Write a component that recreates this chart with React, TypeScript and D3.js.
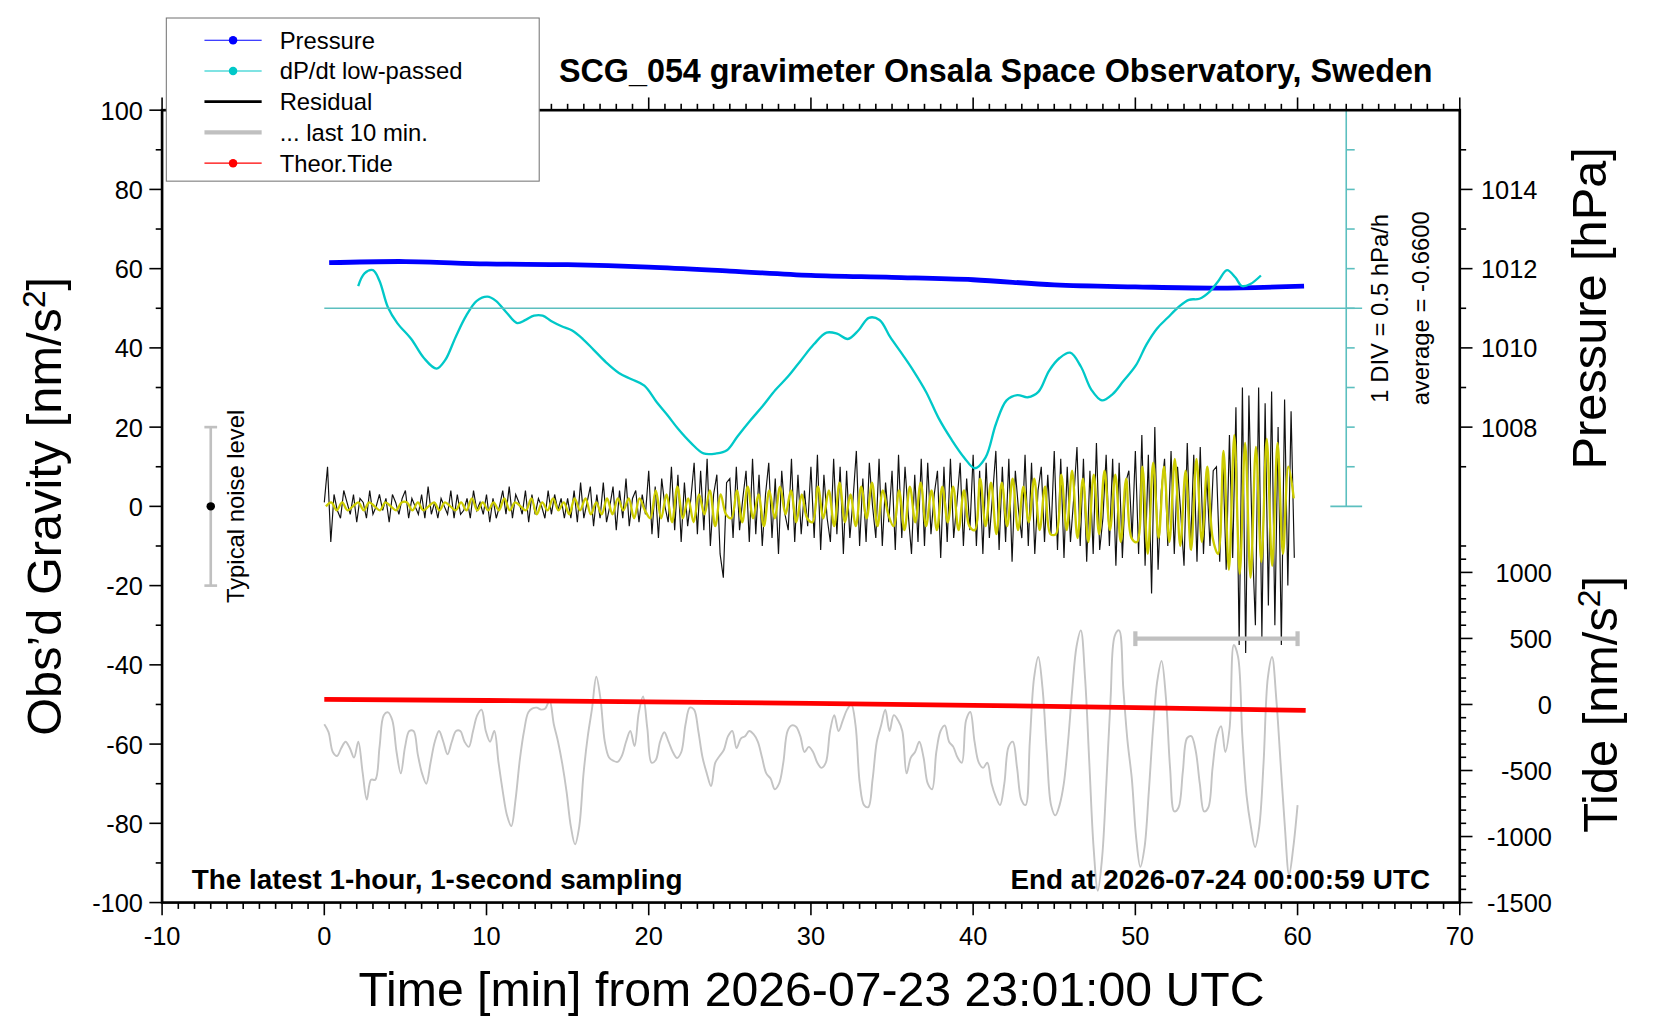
import React from "react";
import * as d3 from "d3";

const W = 1660, H = 1020;
const S = 1660 / 1567;
const M = { l: 153, r: 1378, t: 104, b: 852 };

const xTicks = [-10, 0, 10, 20, 30, 40, 50, 60, 70];
const yTicks = [-100, -80, -60, -40, -20, 0, 20, 40, 60, 80, 100];
const pTicks = [1008, 1010, 1012, 1014];
const tideTicks = [1000, 500, 0, -500, -1000, -1500];

// pressure [hPa] every 5 min
const pressT = [0.3, 5, 10, 15, 20, 25, 30, 35, 40, 45, 50, 55, 60.4];
const pressV = [1012.15, 1012.18, 1012.12, 1012.1, 1012.04, 1011.94, 1011.83, 1011.78, 1011.72, 1011.59, 1011.54, 1011.51, 1011.56];

// dP/dt low-passed [hPa/h]
const dpT = [2.09, 2.48, 3.0, 3.4, 3.92, 4.5, 5.36, 6.14, 6.92, 7.45, 8.1, 8.75, 9.4, 10.06, 10.58, 11.23, 11.89, 12.41, 12.93, 13.46, 13.98, 14.63, 15.28, 15.94, 16.59, 17.37, 18.16, 18.94, 19.73, 20.51, 21.16, 21.82, 22.6, 23.38, 24.17, 24.82, 25.47, 26.26, 27.04, 27.82, 28.61, 29.39, 30.18, 30.96, 31.61, 32.27, 32.92, 33.57, 34.23, 34.88, 35.66, 36.32, 37.1, 37.88, 38.67, 39.45, 40.1, 40.76, 41.41, 42.06, 42.72, 43.37, 44.02, 44.68, 45.33, 45.98, 46.64, 47.29, 47.94, 48.6, 49.25, 50.03, 50.69, 51.34, 51.99, 52.65, 53.3, 53.95, 54.6, 55.13, 55.65, 56.17, 56.56, 57.09, 57.74];
const dpV = [-0.379, -0.219, -0.179, -0.312, -0.647, -0.847, -1.048, -1.288, -1.422, -1.315, -1.021, -0.754, -0.566, -0.513, -0.566, -0.713, -0.847, -0.807, -0.754, -0.754, -0.82, -0.887, -0.941, -1.048, -1.181, -1.342, -1.476, -1.556, -1.636, -1.85, -2.01, -2.184, -2.358, -2.492, -2.492, -2.451, -2.278, -2.077, -1.89, -1.689, -1.516, -1.315, -1.115, -0.967, -0.981, -1.048, -0.941, -0.78, -0.807, -1.021, -1.248, -1.449, -1.716, -2.05, -2.318, -2.545, -2.679, -2.545, -2.117, -1.823, -1.756, -1.783, -1.716, -1.449, -1.288, -1.221, -1.395, -1.689, -1.823, -1.743, -1.582, -1.382, -1.115, -0.914, -0.78, -0.647, -0.553, -0.54, -0.446, -0.312, -0.179, -0.272, -0.379, -0.353, -0.246];
const dpAverage = -0.66;

// theoretical tide [nm/s^2] every 10 min
const tideT = [0, 10, 20, 30, 40, 50, 60.5];
const tideV = [39, 30, 20, 8, -6, -24, -45];

// residual [nm/s^2], every 12 s
const resid = [
  1, 10, -9, 3, -1, -3, 4, 1, -2, 3, -4, 2, 1, -3, 4, -2, 0, 3, -1, 2, -4, 3, 1, -2, 2,
  4, -3, 2, 0, -2, 3, -3, 5, -2, 1, -3, 2, 0, -2, 4, -3, 3, -2, -1, 2, -3, 4, -1, 1, -2,
  3, -4, 2, -3, 0, 4, -2, 5, -3, 3, 1, -2, 4, -4, 3, -2, 2, 0, -3, 4, -2, 3, -1, 2, -3,
  2, -3, 4, -4, 6, -3, 1, 5, -5, 3, -3, 6, -4, 0, 5, -6, 4, -3, 7, -5, 2, 4, -4, 3, -2,
  9, -7, 5, -8, 7, 0, -4, 10, -6, 8, -9, 6, -5, 2, 11, -7, 9, -6, 12, -10, 3, 8, -12, -18, 6,
  7, -8, 10, -6, 2, 9, -9, 12, -7, 8, -10, 3, 11, -8, 7, -12, 9, -2, -6, 12, -9, 8, -7, 4, -5,
  10, -8, 13, -11, 8, -3, -9, 12, -7, 10, -12, 9, -8, 2, 14, -10, 7, -9, 11, 0, -8, 12, -10, 6, -4,
  9, -11, 13, -8, 10, -2, -12, 8, -9, 12, -10, 11, -7, 3, 9, -13, 10, -9, 12, -8, 1, 11, -10, 7, -6,
  13, -10, 9, -12, 11, -8, 3, 14, -11, 10, -9, 12, -14, 9, -1, -8, 13, -10, 11, -12, 4, 10, -9, 8, -7,
  14, -11, 12, -13, 10, -9, 2, 15, -10, 12, -14, 9, -12, 16, -11, -3, 13, -10, 12, -15, 11, -13, 6, 9, -8,
  14, -12, 18, -15, 13, -22, 20, -16, 4, 12, -10, 14, -12, 10, -2, -15, 16, -11, 13, -14, 15, -12, 8, -10, 9,
  10, -14, 12, -16, 18, -13, 25, -35, 30, -37, 28, -8, -30, 30, -33, 26, -25, 29, -30, 20, -35, 27, -20, 24, -13,
];
const residStep = 0.2;

// filtered residual, every 20 s
const filt = [
  0, 1, -1, 1, -1, 0, 1, -1, 1, 0, -1, 1, 0, -1, 1,
  1, -1, 1, -1, 0, 1, -1, 1, 0, -1, 1, -1, 2, -1, 1,
  -1, 1, -1, 2, -1, 1, 0, -1, 2, -2, 1, -1, 2, -1, 1,
  -2, 2, -1, 2, -2, 1, -2, 2, -2, 2, -1, 2, -3, 2, -1,
  -3, 4, -3, 3, -4, 5, -3, 2, -4, 3, -2, 4, -5, 3, -2,
  -3, 4, -4, 5, -3, 3, -5, 4, -3, 5, -2, 4, -4, 3, -3,
  -4, 5, -3, 4, -5, 6, -4, 3, -5, 5, -3, 6, -5, 4, -2,
  -5, 4, -6, 5, -4, 6, -5, 4, -6, 5, -4, 5, -6, 4, -5,
  -6, 7, -5, 6, -7, 6, -5, 7, -6, 5, -4, 7, -6, 5, -7,
  -7, 8, -6, 9, -8, 7, -9, 8, -7, 9, -6, 8, -9, 7, -8,
  -9, 10, -12, 11, -8, 10, -9, 12, -10, 9, -11, 12, -9, 10, -8,
  -12, 14, -16, 18, -17, 16, -18, 15, -14, 17, -15, 16, -12, 10, 2,
];
const filtStep = 1 / 3;

// last 10 minutes residual, stretched over the hour (plotted in gravity units)
const last10 = [
  -55, -57, -62, -63, -61, -59.4, -61, -63.4, -59.4, -67, -74, -69, -69, -60.7, -52.7, -52, -54, -62, -67.4, -60.7,
  -56.7, -56.7, -62.6, -67.4, -70, -64.7, -59.4, -56.7, -59.4, -62.6, -59.4, -56.7, -56.7, -59.4, -60.7, -56.7, -52.7, -51.3, -56.7, -59.4,
  -56.7, -64.7, -72, -78, -80.7, -74, -64, -56.7, -52, -51, -50.8, -51.3, -51, -49, -55, -59.4, -65, -72, -80.7, -85.3,
  -80.7, -67.4, -58, -51, -43, -48.7, -59.4, -63.4, -64.2, -64.5, -63, -59.4, -56.7, -60.5, -52, -48, -56, -64.7, -64, -59.4,
  -57, -59.4, -62, -63.5, -62, -55, -50.8, -51.3, -56.7, -63.4, -67.4, -70.6, -64.7, -63, -61.5, -58, -56.7, -61, -58.6, -58,
  -56.7, -57.5, -59.4, -63.4, -67.4, -68.7, -71.4, -70, -64.7, -56.7, -55.3, -55.6, -58, -62, -60.7, -62, -64.7, -66, -64.7, -56.7,
  -52.7, -56.7, -54, -51.3, -50, -55.3, -70, -75.4, -75.9, -69, -59.4, -55.3, -51.3, -56.7, -52.7, -54, -56.7, -67.4, -63.4, -62,
  -59.4, -63.4, -70, -71.4, -62, -56.7, -55.3, -59.4, -60.7, -63.4, -64.7, -54, -51.9, -59.4, -64.7, -66, -64.7, -70, -73.3, -75.4,
  -70, -60.7, -59.4, -66, -74, -75.4, -59.4, -43.3, -38, -46, -62, -75.4, -78, -75.4, -70, -59.4, -46, -35.3, -31.3, -43.3,
  -64.7, -86, -97, -88.8, -70, -48.7, -32.6, -31.3, -46, -59.4, -68.7, -83.4, -91, -86, -72, -56, -44, -39, -48, -66,
  -77, -76, -67, -58.5, -58, -61.5, -70, -77, -76, -66, -58, -55.5, -62, -56, -35, -38, -58, -73, -80.7, -86,
  -80.7, -64.7, -43.3, -38, -48.7, -64.7, -80.7, -93, -86, -75.4,
];
const last10Span = 60;

const noiseX = -7, noiseLo = -20, noiseHi = 20;
const last10Bar = { x0: 50, x1: 60, y: -33.4 };

const FONT = "'Liberation Sans', Arial, Helvetica, sans-serif";

export default function App() {
  const x = d3.scaleLinear().domain([-10, 70]).range([M.l, M.r]);
  const y = d3.scaleLinear().domain([-100, 100]).range([M.b, M.t]);
  const pToG = (p: number) => 60 + (p - 1012) * 10;
  const tideToG = (t: number) => -50 + t / 30;
  const dpToG = (d: number) => 50 + (d - dpAverage) * 20;

  const line = d3.line<[number, number]>().x(d => x(d[0])).y(d => y(d[1]));
  const smooth = d3.line<[number, number]>().x(d => x(d[0])).y(d => y(d[1])).curve(d3.curveCatmullRom);

  const residPts = resid.map((v, i) => [i * residStep, v] as [number, number]);
  const filtPts = filt.map((v, i) => [i * filtStep + 0.1, v] as [number, number]);
  const lastPts = last10.map((v, i) => [(i * last10Span) / (last10.length - 1), v] as [number, number]);
  const pressPts = pressT.map((t, i) => [t, pToG(pressV[i])] as [number, number]);
  const dpPts = dpT.map((t, i) => [t, dpToG(dpV[i])] as [number, number]);
  const tidePts = tideT.map((t, i) => [t, tideToG(tideV[i])] as [number, number]);

  const minorX = d3.range(-10, 71, 1);
  const minorY = d3.range(-100, 101, 10);
  const minorP = d3.range(1007, 1016, 1);
  const minorTide = d3.range(-1500, 1201, 100);
  const dpAxisX = x(63);

  const legend = [
    { label: "Pressure", color: "#0000ff", dot: true, w: 1 },
    { label: "dP/dt low-passed", color: "#00c8c8", dot: true, w: 1 },
    { label: "Residual", color: "#000", dot: false, w: 2.5 },
    { label: "... last 10 min.", color: "#c0c0c0", dot: false, w: 4 },
    { label: "Theor.Tide", color: "#ff0000", dot: true, w: 1 },
  ];

  return (
    <svg width={W} height={H} style={{ position: "absolute", left: 0, top: 0, background: "#fff" }} fontFamily={FONT}>
      <g transform={`scale(${S})`}>
        {/* data */}
        <path d={smooth(lastPts) || ""} fill="none" stroke="#c4c4c4" strokeWidth={1.8} />
        <path d={line(tidePts) || ""} fill="none" stroke="#ff0000" strokeWidth={4.5} />
        <path d={line(residPts) || ""} fill="none" stroke="#111" strokeWidth={1.1} />
        <path d={smooth(filtPts) || ""} fill="none" stroke="#cccc00" strokeWidth={2.2} />
        <path d={smooth(pressPts) || ""} fill="none" stroke="#0000ff" strokeWidth={4.5} />
        <path d={smooth(dpPts) || ""} fill="none" stroke="#00c8c8" strokeWidth={2.2} />

        {/* dP/dt axis */}
        <g stroke="#5cbfbf" strokeWidth={1.5}>
          <line x1={x(0)} x2={dpAxisX + 15} y1={y(dpToG(dpAverage))} y2={y(dpToG(dpAverage))} />
          <line x1={dpAxisX} x2={dpAxisX} y1={y(100)} y2={y(0)} />
          <line x1={dpAxisX - 15} x2={dpAxisX + 15} y1={y(100)} y2={y(100)} />
          <line x1={dpAxisX - 15} x2={dpAxisX + 15} y1={y(0)} y2={y(0)} />
          {d3.range(10, 100, 10).map(v => (
            <line key={v} x1={dpAxisX} x2={dpAxisX + 8} y1={y(v)} y2={y(v)} />
          ))}
        </g>
        <text transform={`translate(${dpAxisX + 39},${y(50)}) rotate(-90)`} textAnchor="middle" fontSize={22.5}>1 DIV = 0.5 hPa/h</text>
        <text transform={`translate(${dpAxisX + 78},${y(50)}) rotate(-90)`} textAnchor="middle" fontSize={22.5}>average = -0.6600</text>

        {/* noise level */}
        <g stroke="#c0c0c0" strokeWidth={2.5}>
          <line x1={x(noiseX)} x2={x(noiseX)} y1={y(noiseLo)} y2={y(noiseHi)} />
          <line x1={x(noiseX) - 6} x2={x(noiseX) + 6} y1={y(noiseLo)} y2={y(noiseLo)} />
          <line x1={x(noiseX) - 6} x2={x(noiseX) + 6} y1={y(noiseHi)} y2={y(noiseHi)} />
        </g>
        <circle cx={x(noiseX)} cy={y(0)} r={4} fill="#000" />
        <text transform={`translate(${x(noiseX) + 31},${y(0)}) rotate(-90)`} textAnchor="middle" fontSize={22.5}>Typical noise level</text>

        {/* last-10-min bar */}
        <g stroke="#c0c0c0" strokeWidth={4}>
          <line x1={x(last10Bar.x0)} x2={x(last10Bar.x1)} y1={y(last10Bar.y)} y2={y(last10Bar.y)} />
          <line x1={x(last10Bar.x0)} x2={x(last10Bar.x0)} y1={y(last10Bar.y) - 7} y2={y(last10Bar.y) + 7} />
          <line x1={x(last10Bar.x1)} x2={x(last10Bar.x1)} y1={y(last10Bar.y) - 7} y2={y(last10Bar.y) + 7} />
        </g>

        {/* frame */}
        <g stroke="#000">
          <rect x={M.l} y={M.t} width={M.r - M.l} height={M.b - M.t} fill="none" strokeWidth={2.5} />
          {minorX.map(v => (
            <g key={v}>
              <line x1={x(v)} x2={x(v)} y1={M.b} y2={M.b + (v % 10 === 0 ? 12 : 6)} strokeWidth={1.5} />
              <line x1={x(v)} x2={x(v)} y1={M.t} y2={M.t - (v % 10 === 0 ? 12 : 6)} strokeWidth={1.5} />
            </g>
          ))}
          {minorY.map(v => (
            <line key={v} x1={M.l} x2={M.l - (v % 20 === 0 ? 12 : 6)} y1={y(v)} y2={y(v)} strokeWidth={1.5} />
          ))}
          {minorP.map(v => (
            <line key={v} x1={M.r} x2={M.r + (v % 2 === 0 ? 12 : 6)} y1={y(pToG(v))} y2={y(pToG(v))} strokeWidth={1.5} />
          ))}
          {minorTide.map(v => (
            <line key={v} x1={M.r} x2={M.r + (v % 500 === 0 ? 12 : 6)} y1={y(tideToG(v))} y2={y(tideToG(v))} strokeWidth={1.5} />
          ))}
        </g>

        {/* tick labels */}
        <g fontSize={24}>
          {xTicks.map(v => (
            <text key={v} x={x(v)} y={M.b + 40} textAnchor="middle">{v}</text>
          ))}
          {yTicks.map(v => (
            <text key={v} x={M.l - 18} y={y(v) + 9} textAnchor="end">{v}</text>
          ))}
          {pTicks.map(v => (
            <text key={v} x={M.r + 20} y={y(pToG(v)) + 9}>{v}</text>
          ))}
          {tideTicks.map(v => (
            <text key={v} x={M.r + 87} y={y(tideToG(v)) + 9} textAnchor="end">{v}</text>
          ))}
        </g>

        {/* axis titles */}
        <text x={766} y={950} textAnchor="middle" fontSize={45.5}>Time [min] from 2026-07-23 23:01:00 UTC</text>
        <text transform={`translate(58,${y(0)}) rotate(-90)`} textAnchor="middle" fontSize={46}>
          Obs’d Gravity [nm/s<tspan dy={-16} fontSize={30}>2</tspan><tspan dy={16}>]</tspan>
        </text>
        <text transform={`translate(1516,${y(50)}) rotate(-90)`} textAnchor="middle" fontSize={46}>Pressure [hPa]</text>
        <text transform={`translate(1526,${y(-50)}) rotate(-90)`} textAnchor="middle" fontSize={46}>
          Tide [nm/s<tspan dy={-16} fontSize={30}>2</tspan><tspan dy={16}>]</tspan>
        </text>

        <text x={940} y={77} textAnchor="middle" fontSize={30.5} fontWeight="bold">SCG_054 gravimeter Onsala Space Observatory, Sweden</text>
        <text x={181} y={839} fontSize={26.3} fontWeight="bold">The latest 1-hour, 1-second sampling</text>
        <text x={1350} y={839} fontSize={26.3} fontWeight="bold" textAnchor="end">End at 2026-07-24 00:00:59 UTC</text>

        {/* legend */}
        <rect x={157} y={17} width={352} height={154} fill="#fff" stroke="#777" strokeWidth={1} />
        {legend.map((e, i) => {
          const ly = 38 + i * 29;
          return (
            <g key={e.label}>
              <line x1={193} x2={247} y1={ly} y2={ly} stroke={e.color} strokeWidth={e.w} />
              {e.dot && <circle cx={220} cy={ly} r={4} fill={e.color} />}
              <text x={264} y={ly + 8} fontSize={22.5}>{e.label}</text>
            </g>
          );
        })}
      </g>
    </svg>
  );
}
